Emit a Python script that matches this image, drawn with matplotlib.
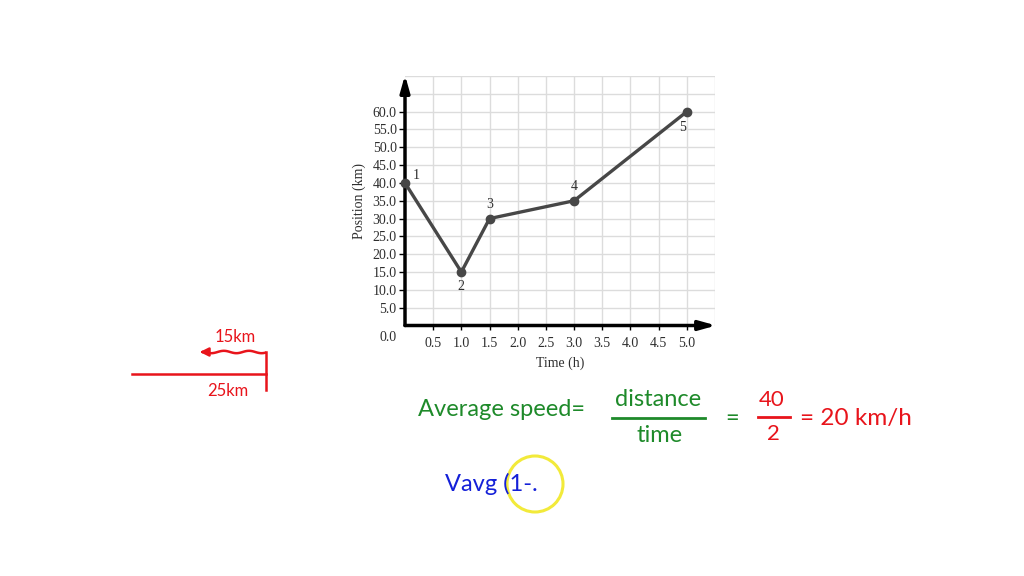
import numpy as np
import matplotlib
matplotlib.use("Agg")
import matplotlib.pyplot as plt
from matplotlib.patches import Circle

# chart data
time_h = [0.0, 1.0, 1.5, 3.0, 5.0]
position_km = [40.0, 15.0, 30.0, 35.0, 60.0]
point_labels = ["1", "2", "3", "4", "5"]
x_ticks = [0.5, 1.0, 1.5, 2.0, 2.5, 3.0, 3.5, 4.0, 4.5, 5.0]
y_ticks = [5, 10, 15, 20, 25, 30, 35, 40, 45, 50, 55, 60]

W, H = 1024, 576
fig = plt.figure(figsize=(W / 100, H / 100), dpi=100)
fig.patch.set_facecolor("white")

serif = "Liberation Serif"
hand = "Lato"
ink = "#2e2e2e"

## POSITION VS TIME CHART ##
ax = fig.add_axes([405 / W, 1 - 325.5 / H, 310 / W, 249.5 / H])
ax.set_xlim(0, 5.5)
ax.set_ylim(0, 70)

for x in np.arange(0.5, 5.51, 0.5):
    ax.axvline(x, color="#dcdcdc", lw=1, zorder=0)
for y in np.arange(5, 70.1, 5):
    ax.axhline(y, color="#dcdcdc", lw=1, zorder=0)

for s in ax.spines.values():
    s.set_visible(False)

ax.annotate("", xy=(5.52, 0), xytext=(0, 0), annotation_clip=False,
            arrowprops=dict(arrowstyle="-|>,head_length=1.0,head_width=0.28",
                            color="black", lw=2.5, shrinkA=0, shrinkB=0))
ax.annotate("", xy=(0, 70.3), xytext=(0, 0), annotation_clip=False,
            arrowprops=dict(arrowstyle="-|>,head_length=1.0,head_width=0.28",
                            color="black", lw=2.5, shrinkA=0, shrinkB=0))

ax.plot(time_h, position_km, color="#474747", lw=2.4, marker="o",
        markersize=6, zorder=3, clip_on=False)

offsets = [(0.2, 2.0), (0.0, -4.0), (0.0, 4.0), (0.0, 4.0), (-0.08, -4.5)]
for t, p, lab, (dx, dy) in zip(time_h, position_km, point_labels, offsets):
    ax.text(t + dx, p + dy, lab, fontsize=10, family=serif, color=ink,
            ha="center", va="center")

ax.set_xticks(x_ticks)
ax.set_xticklabels([f"{v:.1f}" for v in x_ticks])
ax.set_yticks(y_ticks)
ax.set_yticklabels([f"{v:.1f}" for v in y_ticks])
ax.tick_params(axis="x", length=3, width=1, pad=5, labelsize=10, labelcolor=ink)
ax.tick_params(axis="y", length=4, width=1, pad=2, labelsize=10, labelcolor=ink)
for lab in ax.get_xticklabels() + ax.get_yticklabels():
    lab.set_family(serif)

ax.text(-0.3, -3.5, "0.0", fontsize=10, family=serif, color=ink,
        ha="center", va="center", clip_on=False)

ax.set_xlabel("Time (h)", family=serif, fontsize=10, color=ink, labelpad=5)
ax.set_ylabel("Position (km)", family=serif, fontsize=10, color=ink,
              labelpad=5)

## HANDWRITTEN NOTES ##
ov = fig.add_axes([0, 0, 1, 1], zorder=-1)
ov.set_xlim(0, W)
ov.set_ylim(H, 0)
ov.axis("off")

red = "#e8141b"
green = "#1e8a2a"
blue = "#1420d8"

ov.text(235, 337, "15km", color=red, fontsize=12, family=hand, ha="center",
        va="center")
wx = np.linspace(205, 265, 40)
ov.plot(wx, 352 + 1.2 * np.sin((wx - 205) / 4), color=red, lw=1.8)
ov.annotate("", xy=(197, 352), xytext=(207, 352),
            arrowprops=dict(arrowstyle="-|>,head_length=0.5,head_width=0.25",
                            color=red, lw=1.8))
ov.plot([266, 266], [352, 390], color=red, lw=1.8)
ov.plot([132, 266], [374, 374], color=red, lw=1.8)
ov.text(228, 391, "25km", color=red, fontsize=12, family=hand, ha="center",
        va="center")

ov.text(418, 410, "Average speed=", color=green, fontsize=17, family=hand,
        ha="left", va="center")
ov.text(658, 399, "distance", color=green, fontsize=17, family=hand,
        ha="center", va="center")
ov.plot([612, 705], [418, 418], color=green, lw=2)
ov.text(660, 435, "time", color=green, fontsize=17, family=hand,
        ha="center", va="center")
ov.text(732, 419, "=", color=green, fontsize=17, family=hand,
        ha="center", va="center")
ov.text(772, 400, "40", color=red, fontsize=16, family=hand,
        ha="center", va="center")
ov.plot([758, 790], [417, 417], color=red, lw=2)
ov.text(773, 434, "2", color=red, fontsize=16, family=hand,
        ha="center", va="center")
ov.text(800, 418, "= 20 km/h", color=red, fontsize=17.5, family=hand,
        ha="left", va="center")

ov.text(445, 484, "Vavg (1-.", color=blue, fontsize=17, family=hand,
        ha="left", va="center")
ov.add_patch(Circle((535, 484), 28, fill=False, edgecolor="#f2ea3a", lw=2.2))

fig.savefig("out.png", dpi=100)
